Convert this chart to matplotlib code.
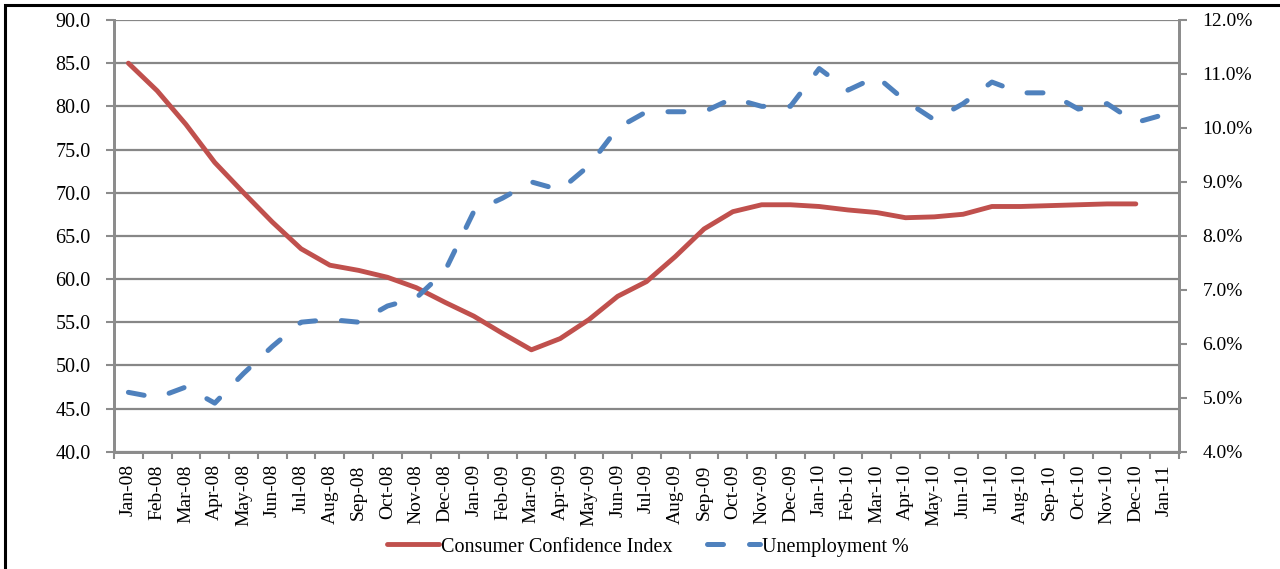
import matplotlib
matplotlib.use("Agg")
import matplotlib.pyplot as plt
from matplotlib.patches import Rectangle
from matplotlib.ticker import FixedLocator, FormatStrFormatter

# --- DATA ---
months = ["Jan-08", "Feb-08", "Mar-08", "Apr-08", "May-08", "Jun-08", "Jul-08", "Aug-08",
          "Sep-08", "Oct-08", "Nov-08", "Dec-08", "Jan-09", "Feb-09", "Mar-09", "Apr-09",
          "May-09", "Jun-09", "Jul-09", "Aug-09", "Sep-09", "Oct-09", "Nov-09", "Dec-09",
          "Jan-10", "Feb-10", "Mar-10", "Apr-10", "May-10", "Jun-10", "Jul-10", "Aug-10",
          "Sep-10", "Oct-10", "Nov-10", "Dec-10", "Jan-11"]

# Consumer confidence index (no Jan-11 reading)
confidence = [85.0, 81.8, 77.9, 73.5, 70.0, 66.6, 63.5, 61.6, 61.0, 60.2, 59.0, 57.3,
              55.7, 53.7, 51.8, 53.1, 55.3, 58.0, 59.7, 62.6, 65.8, 67.8, 68.6, 68.6,
              68.4, 68.0, 67.7, 67.1, 67.2, 67.5, 68.4, 68.4, 68.5, 68.6, 68.7, 68.7]

# Unemployment rate, percent
unemployment = [5.1, 5.0, 5.2, 4.9, 5.45, 5.95, 6.4, 6.45, 6.4, 6.7, 6.85, 7.35,
                8.45, 8.7, 9.0, 8.85, 9.3, 10.0, 10.3, 10.3, 10.3, 10.55, 10.4, 10.4,
                11.1, 10.7, 10.95, 10.5, 10.15, 10.45, 10.85, 10.65, 10.65, 10.35, 10.45,
                10.1, 10.25]

left_ticks = [40, 45, 50, 55, 60, 65, 70, 75, 80, 85, 90]
right_ticks = [4, 5, 6, 7, 8, 9, 10, 11, 12]

# --- STYLE ---
RED = "#C0504D"
BLUE = "#4F81BD"
GRID = "#878787"
SPINE = "#8C8C8C"
plt.rcParams["font.family"] = ["Liberation Serif", "DejaVu Serif"]

fig = plt.figure(figsize=(12.8, 5.69), dpi=100)
ax = fig.add_axes([114 / 1280, 117.3 / 569, 1065 / 1280, 431.7 / 569])
ax2 = ax.twinx()

x = list(range(len(months)))

line1, = ax.plot(x[:len(confidence)], confidence, color=RED, lw=3.5,
                 solid_capstyle="round", solid_joinstyle="round",
                 label="Consumer Confidence Index", zorder=3)
line2, = ax2.plot(x, unemployment, color=BLUE, lw=3.6, linestyle=(0, (3.2, 5.2)),
                  dash_capstyle="round", dash_joinstyle="round",
                  label="Unemployment %", zorder=3)

# left axis
ax.set_ylim(40, 90)
ax.set_yticks(left_ticks)
ax.yaxis.set_major_formatter(FormatStrFormatter("%.1f"))
ax.grid(axis="y", color=GRID, lw=1.6)
ax.set_axisbelow(True)

# right axis
ax2.set_ylim(4, 12)
ax2.set_yticks(right_ticks)
ax2.yaxis.set_major_formatter(FormatStrFormatter("%.1f%%"))

# x axis: labels at category centres, tick marks between categories
ax.set_xlim(-0.5, len(months) - 0.5)
ax.set_xticks(x)
ax.set_xticklabels(months, rotation=90, fontsize=14)
ax.xaxis.set_minor_locator(FixedLocator([i - 0.5 for i in range(len(months) + 1)]))
ax.tick_params(axis="x", which="major", length=0, pad=9)
ax.tick_params(axis="x", which="minor", length=5, width=1.5, color=SPINE)
ax.tick_params(axis="y", length=6, width=1.5, color=SPINE, labelsize=14.5, pad=11)
ax2.tick_params(axis="y", length=6, width=1.5, color=SPINE, labelsize=14, pad=11)

for a in (ax, ax2):
    a.spines["top"].set_visible(False)
    for side in ("left", "right", "bottom"):
        a.spines[side].set_color(SPINE)
        a.spines[side].set_linewidth(2)

fig.legend(handles=[line1, line2], loc="center", bbox_to_anchor=(0.506, 0.0387),
           ncol=2, frameon=False, fontsize=14.5, handlelength=2.6,
           handletextpad=0.1, columnspacing=1.7)

# black frame around the chart (runs off the right and bottom edges)
fig.patches.append(Rectangle((5 / 1280, -0.05), 1.2, 1.05 - 5 / 569,
                             transform=fig.transFigure, fill=False,
                             edgecolor="black", lw=2.2))

fig.savefig("out.png", dpi=100)
